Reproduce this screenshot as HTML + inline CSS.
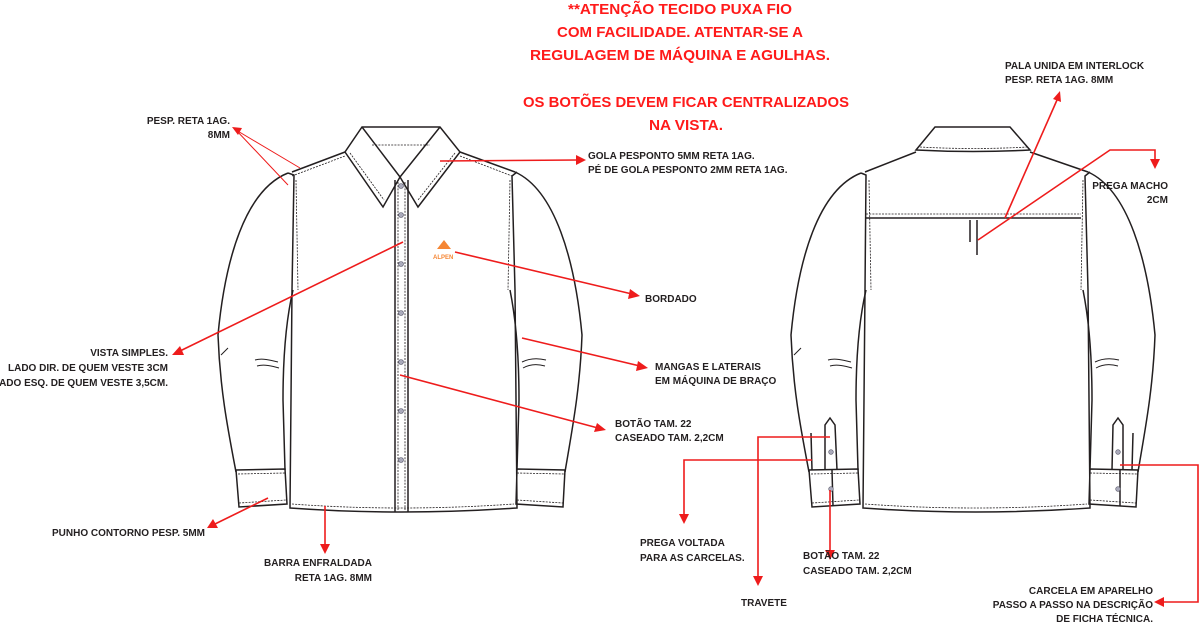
<!DOCTYPE html>
<html><head><meta charset="utf-8"><style>
html,body{margin:0;padding:0;background:#fff;width:1200px;height:622px;overflow:hidden}
svg{display:block}
text{font-family:"Liberation Sans",sans-serif;font-weight:bold}
.t{font-size:10px;fill:#231f20}
.r{font-size:15px;fill:#ff1a1a}
.o{fill:none;stroke:#231f20;stroke-width:1.5}
.d{fill:none;stroke:#231f20;stroke-width:0.8;stroke-dasharray:2 1.2}
.a{fill:none;stroke:#ee1c1c;stroke-width:1.6}
.h{fill:#ee1c1c}
</style></head><body>
<svg width="1200" height="622" viewBox="0 0 1200 622" xmlns="http://www.w3.org/2000/svg">
<defs>
<g id="sleeves">
 <path class="o" d="M288,173 C245,190 225,260 218,335 C220,390 228,430 236,472"/>
 <path class="o" d="M293,290 C286,320 283,360 283,400 L285,470"/>
 <path class="o" d="M236,470 L285,469 L287,504 L239,507 Z"/>
 <path class="d" d="M238,474 L285,473 M239,503 L286,500"/>
 <path class="o" d="M221,355 C224,352 226,350 228,348 M255,360 C262,358 270,360 278,362 M257,366 C264,364 272,366 279,368" style="stroke-width:1"/>
 <path class="o" d="M515,172 C555,190 575,260 582,335 C580,390 572,430 565,472"/>
 <path class="o" d="M510,290 C516,320 519,360 519,400 L517,470"/>
 <path class="o" d="M517,469 L565,470 L563,507 L516,504 Z"/>
 <path class="d" d="M517,473 L564,474 M517,500 L563,503"/>
 <path class="o" d="M522,362 C530,358 538,358 546,360 M523,368 C530,364 538,364 545,366" style="stroke-width:1"/>
</g>
</defs>

<!-- FRONT SHIRT -->
<use href="#sleeves"/>
<path class="o" d="M292,172 L345,152 M460,152 L515,172"/>
<path class="d" d="M292,176 L345,156 M460,156 L512,176"/>
<path class="o" d="M288,173 L294,175 L292,290 L290,508 Q400,516 517,508 L515,290 L512,176 L517,172"/>
<path class="d" d="M296,180 L298,290 M510,180 L508,290 M292,504 Q400,512 514,504"/>
<!-- collar -->
<path class="o" d="M362,127 L440,127 L460,152 L418,207 L400,177 L383,207 L345,152 Z"/>
<path class="o" d="M362,127 L400,177 L440,127"/>
<path class="d" d="M372,145 L430,145 M350,153 L384,200 M455,153 L418,200"/>
<!-- placket -->
<path class="o" d="M395,180 L395,512 M408,180 L408,512"/>
<path class="d" d="M398,182 L398,510 M405,182 L405,510"/>
<g fill="#aab" stroke="#556" stroke-width="0.6">
<circle cx="401" cy="186" r="2.5"/><circle cx="401" cy="215" r="2.5"/><circle cx="401" cy="264" r="2.5"/><circle cx="401" cy="313" r="2.5"/><circle cx="401" cy="362" r="2.5"/><circle cx="401" cy="411" r="2.5"/><circle cx="401" cy="460" r="2.5"/>
</g>
<path d="M437,249 L444,240 L451,249 Z" fill="#f58634"/>
<text x="433" y="259" style="font-size:6px;fill:#f58634">ALPEN</text>

<!-- BACK SHIRT -->
<g transform="translate(573,0)"><use href="#sleeves"/></g>
<path class="o" d="M865,172 L916,152 M1030,152 L1088,172"/>
<path class="o" d="M861,173 L866,175 L865,290 L863,508 Q975,516 1090,508 L1088,290 L1085,176 L1090,172"/>
<path class="d" d="M869,180 L871,290 M1083,180 L1081,290 M865,504 Q975,512 1087,504"/>
<path class="o" d="M935,127 L1010,127 L1030,150 Q973,153 916,150 Z"/>
<path class="d" d="M920,147 Q973,150 1028,147"/>
<path class="o" d="M866,218 L1081,218"/>
<path class="d" d="M866,214 L1081,214"/>
<path class="o" d="M970,220 L970,242 M977,220 L977,255"/>
<!-- back cuff plackets -->
<path class="o" d="M825,470 L825,425 L830,418 L835,425 L837,470 M811,433 L812,470 M832,470 L833,506"/>
<path class="o" d="M1112,470 L1113,425 L1118,418 L1123,425 L1123,470 M1133,433 L1132,470 M1120,470 L1120,506"/>
<g fill="#aab" stroke="#556" stroke-width="0.6"><circle cx="831" cy="452" r="2.3"/><circle cx="831" cy="489" r="2.3"/><circle cx="1118" cy="452" r="2.3"/><circle cx="1118" cy="489" r="2.3"/></g>

<!-- ANNOTATIONS -->
<path class="a" d="M300,168 L236,130 M288,185 L236,130" style="stroke-width:1"/>
<path class="h" d="M232,127 L242,128 L238,135 Z"/>
<path class="a" d="M440,161 L578,160"/><path class="h" d="M586,160 L576,155 L576,165 Z"/>
<path class="a" d="M455,252 L632,294"/><path class="h" d="M640,296 L630,289 L628,299 Z"/>
<path class="a" d="M403,242 L180,351"/><path class="h" d="M172,355 L180,346 L184,355 Z"/>
<path class="a" d="M522,338 L640,366"/><path class="h" d="M648,368 L638,361 L636,371 Z"/>
<path class="a" d="M400,375 L598,428"/><path class="h" d="M606,430 L597,423 L594,432 Z"/>
<path class="a" d="M268,498 L215,524"/><path class="h" d="M207,528 L213,519 L218,528 Z"/>
<path class="a" d="M325,506 L325,545"/><path class="h" d="M325,554 L320,544 L330,544 Z"/>
<path class="a" d="M978,240 L1110,150 L1155,150 L1155,160"/><path class="h" d="M1155,169 L1150,159 L1160,159 Z"/>
<path class="a" d="M1005,218 L1057,100"/><path class="h" d="M1060,91 L1061,102 L1053,99 Z"/>
<path class="a" d="M812,460 L684,460 L684,515"/><path class="h" d="M684,524 L679,514 L689,514 Z"/>
<path class="a" d="M830,437 L758,437 L758,577"/><path class="h" d="M758,586 L753,576 L763,576 Z"/>
<path class="a" d="M830,490 L830,551"/><path class="h" d="M830,560 L825,550 L835,550 Z"/>
<path class="a" d="M1120,465 L1198,465 L1198,602 L1163,602"/><path class="h" d="M1154,602 L1164,597 L1164,607 Z"/>

<!-- red notes -->
<text class="r" x="680" y="14" text-anchor="middle" textLength="224" lengthAdjust="spacingAndGlyphs">**ATENÇÃO TECIDO PUXA FIO</text>
<text class="r" x="680" y="37" text-anchor="middle" textLength="246" lengthAdjust="spacingAndGlyphs">COM FACILIDADE. ATENTAR-SE A</text>
<text class="r" x="680" y="60" text-anchor="middle" textLength="300" lengthAdjust="spacingAndGlyphs">REGULAGEM DE MÁQUINA E AGULHAS.</text>
<text class="r" x="686" y="107" text-anchor="middle" textLength="326" lengthAdjust="spacingAndGlyphs">OS BOTÕES DEVEM FICAR CENTRALIZADOS</text>
<text class="r" x="686" y="130" text-anchor="middle" textLength="74" lengthAdjust="spacingAndGlyphs">NA VISTA.</text>

<!-- labels -->
<g class="t">
<text x="230" y="124" text-anchor="end">PESP. RETA 1AG.</text>
<text x="230" y="138" text-anchor="end">8MM</text>
<text x="588" y="159">GOLA PESPONTO 5MM RETA 1AG.</text>
<text x="588" y="173">PÉ DE GOLA PESPONTO 2MM RETA 1AG.</text>
<text x="645" y="302">BORDADO</text>
<text x="168" y="356" text-anchor="end">VISTA SIMPLES.</text>
<text x="168" y="371" text-anchor="end">LADO DIR. DE QUEM VESTE 3CM</text>
<text x="168" y="386" text-anchor="end">LADO ESQ. DE QUEM VESTE 3,5CM.</text>
<text x="655" y="370">MANGAS E LATERAIS</text>
<text x="655" y="384">EM MÁQUINA DE BRAÇO</text>
<text x="615" y="427">BOTÃO TAM. 22</text>
<text x="615" y="441">CASEADO TAM. 2,2CM</text>
<text x="205" y="536" text-anchor="end">PUNHO CONTORNO PESP. 5MM</text>
<text x="372" y="566" text-anchor="end">BARRA ENFRALDADA</text>
<text x="372" y="581" text-anchor="end">RETA 1AG. 8MM</text>
<text x="1005" y="69">PALA UNIDA EM INTERLOCK</text>
<text x="1005" y="83">PESP. RETA 1AG. 8MM</text>
<text x="1168" y="189" text-anchor="end">PREGA MACHO</text>
<text x="1168" y="203" text-anchor="end">2CM</text>
<text x="640" y="546">PREGA VOLTADA</text>
<text x="640" y="561">PARA AS CARCELAS.</text>
<text x="741" y="606">TRAVETE</text>
<text x="803" y="559">BOTÃO TAM. 22</text>
<text x="803" y="574">CASEADO TAM. 2,2CM</text>
<text x="1153" y="594" text-anchor="end">CARCELA EM APARELHO</text>
<text x="1153" y="608" text-anchor="end">PASSO A PASSO NA DESCRIÇÃO</text>
<text x="1153" y="622" text-anchor="end">DE FICHA TÉCNICA.</text>
</g>
</svg>
</body></html>
